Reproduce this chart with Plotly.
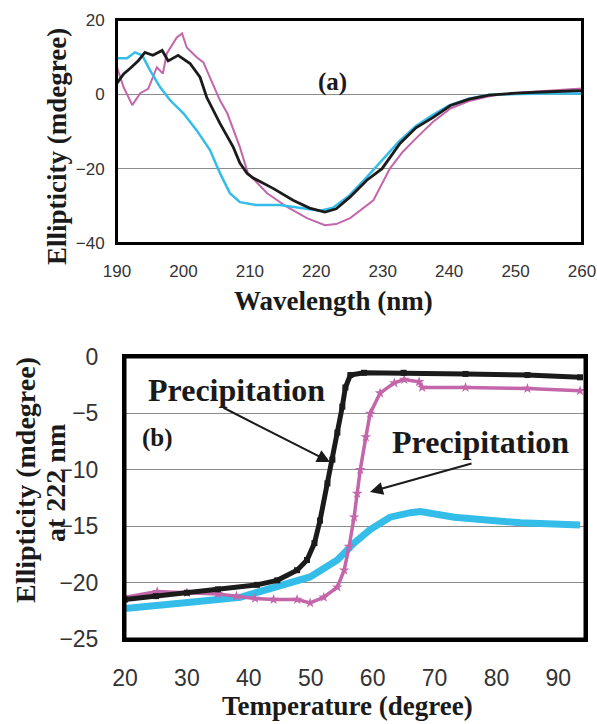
import plotly.graph_objects as go

W, H = 597, 724

# ---------------- Panel (a): CD spectra ----------------
wl_black = [190, 191, 192, 193.2, 194.2, 195.4, 196.8, 197.7, 199.2, 201, 202.5, 203.5, 205.5, 207.5,
            208.5, 209.6, 210.5, 213.5, 216.5, 219, 221.3, 223, 225.1, 227.6, 229.9, 232.6, 235, 237.6,
            240.2, 243, 246, 250, 255, 260]
cd_black = [3.0, 5.5, 7, 9, 11.3, 10.5, 11.8, 9, 10.5, 8.3, 4.6, -0.8, -7.8, -14.2,
            -18.5, -21.3, -22.5, -25.3, -28.5, -30.6, -31.7, -30.8, -27.6, -23.1, -20, -13.2, -9, -6.2,
            -3, -1.3, -0.2, 0.3, 0.7, 1.0]

wl_cyan = [190, 191.5, 192.7, 193.8, 195, 196.5, 198, 200, 202, 204, 205.5, 207, 208.5, 211, 214.5,
           218, 220.6, 222.5, 225, 227.5, 229.5, 232.5, 235, 237.5, 240, 243, 246, 250, 255, 260]
cd_cyan = [9.7, 9.7, 11.3, 10.5, 6.4, 1.9, -1.6, -5.1, -9.7, -15, -21.2, -26.6, -29, -29.8, -29.8,
           -30.6, -31.3, -30.5, -27.2, -22.5, -18.6, -12.6, -8.5, -5.6, -3, -1.2, -0.1, 0.1, 0.2, 0.2]

wl_mag = [190, 191, 192.3, 193.5, 194.7, 196, 196.9, 197.5, 199, 199.8, 200.5, 202, 203, 204, 205.5,
          206.6, 207.3, 208.5, 209.7, 212.6, 215.6, 218.6, 221.3, 223, 225.1, 228.6, 231.1, 233, 235.2,
          237.5, 240.2, 243, 246, 248, 252, 256, 260]
cd_mag = [7.3, 1.9, -2.9, 0.3, 1.5, 7.3, 5.6, 11, 15.3, 16.4, 12.6, 10, 8.6, 4.6, -1.6,
          -5.1, -8.3, -14.2, -21.2, -26.6, -30.3, -33.3, -35.2, -34.9, -33.3, -28.5, -19.9, -15.5, -11.5,
          -7.5, -3.8, -1.8, -0.5, 0, 0.6, 1.1, 1.6]

# ---------------- Panel (b): thermal melt at 222 nm ----------------
t_black = [20, 25, 30, 35, 41.3, 44.6, 47.8, 49.4, 50.6, 51.5, 52.7, 53.5, 54.3, 55.1, 55.6, 56.4,
           58.6, 65, 75, 85, 93.5]
e_black = [-21.5, -21.2, -20.9, -20.6, -20.2, -19.8, -18.9, -18, -16.5, -14.5, -11.2, -9.1, -6.7, -4.4,
           -2.7, -1.6, -1.4, -1.4, -1.5, -1.6, -1.8]

t_mag = [20, 25.2, 30, 35, 38, 41, 44, 47.8, 49.9, 52.1, 54.3, 55.4, 56.2, 57, 57.5, 58, 58.9, 59.6,
         61.2, 63.5, 65.1, 67.5, 68, 75, 85, 93.5]
e_mag = [-21.3, -20.8, -20.9, -21, -21.2, -21.4, -21.5, -21.5, -21.8, -21.3, -20.4, -18.9, -16.8, -14.2,
         -12.1, -10, -7.1, -5, -3.2, -2.3, -2, -2.2, -2.7, -2.7, -2.8, -3.0]

t_cyan = [20, 27.9, 33, 38.6, 44.6, 49.9, 54.3, 57, 59.6, 62.8, 66.1, 67.7, 73.2, 78.5, 83.9, 93.5]
e_cyan = [-22.3, -21.8, -21.6, -21.3, -20.4, -19.5, -18, -16.5, -15.3, -14.2, -13.8, -13.7, -14.2,
          -14.5, -14.7, -14.9]

a_yticks = [-40, -20, 0, 20]
a_xticks = [190, 200, 210, 220, 230, 240, 250, 260]
b_yticks = [-25, -20, -15, -10, -5, 0]
b_xticks = [20, 30, 40, 50, 60, 70, 80, 90]

BLACK = "#1b1b1b"
CYAN = "#35BDE9"
MAG = "#C466AA"
SERIF = "Liberation Serif, Times New Roman, serif"
SANS = "Liberation Sans, Arial, sans-serif"


def px(x):
    return x / W


def py(y):
    return 1 - y / H


fig = go.Figure()
fig.add_trace(go.Scatter(x=wl_mag, y=cd_mag, mode="lines", line=dict(color=MAG, width=2),
                         xaxis="x", yaxis="y", showlegend=False))
fig.add_trace(go.Scatter(x=wl_cyan, y=cd_cyan, mode="lines", line=dict(color=CYAN, width=2.5),
                         xaxis="x", yaxis="y", showlegend=False))
fig.add_trace(go.Scatter(x=wl_black, y=cd_black, mode="lines", line=dict(color=BLACK, width=2.8),
                         xaxis="x", yaxis="y", showlegend=False))

fig.add_trace(go.Scatter(x=t_cyan, y=e_cyan, mode="lines", line=dict(color=CYAN, width=7),
                         xaxis="x2", yaxis="y2", showlegend=False))
fig.add_trace(go.Scatter(x=t_mag, y=e_mag, mode="lines+markers", line=dict(color=MAG, width=3.5),
                         marker=dict(symbol="star", size=8, color=MAG),
                         xaxis="x2", yaxis="y2", showlegend=False))
fig.add_trace(go.Scatter(x=t_black, y=e_black, mode="lines+markers", line=dict(color=BLACK, width=5),
                         marker=dict(symbol="square", size=6, color=BLACK),
                         xaxis="x2", yaxis="y2", showlegend=False))

axis_common = dict(showline=True, linecolor="black", mirror=True, zeroline=False, automargin=False,
                   ticks="outside", tickcolor="rgba(0,0,0,0)")

fig.update_layout(
    template="none",
    width=W, height=H, margin=dict(l=0, r=0, t=0, b=0, pad=0, autoexpand=False),
    paper_bgcolor="white", plot_bgcolor="white",
    xaxis=dict(domain=[px(117), px(582)], range=[190, 260], tickvals=a_xticks, showgrid=False,
               linewidth=2, ticklen=12, tickfont=dict(family=SANS, size=17, color="#333"),
               anchor="y", **axis_common),
    yaxis=dict(domain=[py(243), py(20)], range=[-40, 20], tickvals=a_yticks, showgrid=True,
               gridcolor="#8c8c8c", gridwidth=1, linewidth=2, ticklen=7,
               tickfont=dict(family=SANS, size=17, color="#333"), anchor="x", **axis_common),
    xaxis2=dict(domain=[px(125), px(585)], range=[20, 94.3], tickvals=b_xticks, showgrid=False,
                linewidth=3, ticklen=16, tickfont=dict(family=SANS, size=23, color="#333"),
                anchor="y2", **axis_common),
    yaxis2=dict(domain=[py(639), py(357)], range=[-25, 0], tickvals=b_yticks, showgrid=True,
                gridcolor="#8c8c8c", gridwidth=1, linewidth=3, ticklen=19,
                tickfont=dict(family=SANS, size=23, color="#333"), anchor="x2", **axis_common),
)

# frames around both plot areas
fig.add_shape(type="rect", xref="x domain", yref="y domain", x0=0, x1=1, y0=0, y1=1,
              line=dict(color="black", width=2), layer="above")
fig.add_shape(type="rect", xref="x2 domain", yref="y2 domain", x0=0, x1=1, y0=0, y1=1,
              line=dict(color="black", width=3), layer="above")

ann = []


def text(x, y, s, size, angle=0):
    ann.append(dict(x=px(x), y=py(y), xref="paper", yref="paper", text="<b>%s</b>" % s,
                    showarrow=False, textangle=angle, xanchor="center", yanchor="middle",
                    font=dict(family=SERIF, size=size, color="#1a1a1a")))


text(57, 147, "Ellipticity (mdegree)", 27, -90)
text(333, 301, "Wavelength (nm)", 27)
text(332, 82, "(a)", 25)
text(25, 480, "Ellipticity (mdegree)", 28, -90)
text(55, 483, "at 222 nm", 28, -90)
text(347, 706, "Temperature (degree)", 27)
text(157, 438, "(b)", 25)
text(236, 390, "Precipitation", 32)
text(480, 442, "Precipitation", 32)

for tip, tail in [((330, 462), (222, 407)), ((370, 492), (473, 463))]:
    ann.append(dict(x=px(tip[0]), y=py(tip[1]), xref="paper", yref="paper", text="",
                    showarrow=True, ax=tail[0] - tip[0], ay=tail[1] - tip[1],
                    arrowhead=2, arrowsize=1.3, arrowwidth=2, arrowcolor="#1a1a1a", standoff=0))

fig.update_layout(annotations=ann)
fig.write_html("out.html")
